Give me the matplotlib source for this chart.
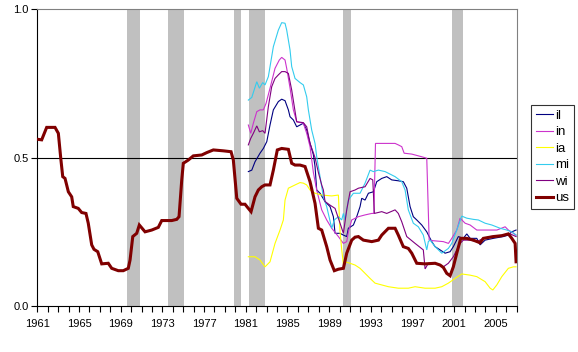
import matplotlib
matplotlib.use("Agg")
import matplotlib.pyplot as plt
from matplotlib.lines import Line2D

plt.rcParams['font.family'] = ['Liberation Sans', 'DejaVu Sans']
plt.rcParams['font.size'] = 8

# Recession periods (start, end) in years
recessions = [(1969.61, 1970.86), (1973.54, 1975.05), (1979.88, 1980.52),
              (1981.32, 1982.85), (1990.34, 1991.10), (2000.80, 2001.86)]

us_years = [1961.00, 1961.42, 1961.90, 1962.70, 1963.02, 1963.25, 1963.44, 1963.66, 1963.98, 1964.30,
            1964.45, 1964.93, 1965.26, 1965.67, 1965.89, 1966.22, 1966.44, 1966.80, 1967.18, 1967.81,
            1968.14, 1968.77, 1969.25, 1969.73, 1969.90, 1970.16, 1970.54, 1970.79, 1971.34, 1971.98,
            1972.61, 1972.94, 1973.90, 1974.38, 1974.60, 1974.86, 1975.01, 1975.49, 1975.97, 1976.78,
            1977.26, 1977.89, 1978.85, 1979.59, 1979.81, 1980.14, 1980.55, 1980.93, 1981.25, 1981.51,
            1981.89, 1982.21, 1982.54, 1982.85, 1983.33, 1983.65, 1984.03, 1984.45, 1985.09, 1985.41,
            1985.73, 1986.21, 1986.69, 1987.17, 1987.65, 1987.97, 1988.29, 1988.77, 1989.09, 1989.50,
            1989.89, 1990.37, 1990.69, 1991.17, 1991.49, 1991.81, 1992.29, 1993.09, 1993.73, 1994.05,
            1994.69, 1995.33, 1995.64, 1996.12, 1996.60, 1996.93, 1997.41, 1998.21, 1999.17, 1999.65,
            1999.96, 2000.29, 2000.61, 2000.92, 2001.25, 2001.63, 2002.21, 2002.84, 2003.49, 2003.80,
            2004.76, 2005.57, 2006.20, 2006.53, 2006.85, 2006.94]
us_vals = [0.562, 0.560, 0.602, 0.602, 0.582, 0.498, 0.436, 0.430, 0.385, 0.368,
           0.335, 0.329, 0.315, 0.312, 0.279, 0.206, 0.191, 0.183, 0.142, 0.144,
           0.127, 0.119, 0.119, 0.127, 0.155, 0.234, 0.245, 0.273, 0.250, 0.256,
           0.265, 0.288, 0.288, 0.292, 0.301, 0.425, 0.481, 0.492, 0.506, 0.509,
           0.517, 0.526, 0.523, 0.520, 0.492, 0.363, 0.343, 0.343, 0.329, 0.318,
           0.368, 0.391, 0.402, 0.408, 0.408, 0.458, 0.526, 0.531, 0.528, 0.481,
           0.475, 0.475, 0.470, 0.419, 0.346, 0.262, 0.256, 0.200, 0.155, 0.119,
           0.124, 0.127, 0.178, 0.222, 0.232, 0.234, 0.222, 0.217, 0.222, 0.239,
           0.262, 0.262, 0.239, 0.200, 0.194, 0.178, 0.144, 0.142, 0.144, 0.138,
           0.130, 0.110, 0.102, 0.132, 0.178, 0.228, 0.228, 0.222, 0.213, 0.228,
           0.234, 0.237, 0.243, 0.228, 0.211, 0.149]

il_years = [1981.25, 1981.58, 1981.89, 1982.37, 1982.69, 1983.02, 1983.33, 1983.65, 1984.13, 1984.45,
            1984.77, 1985.09, 1985.25, 1985.57, 1985.89, 1986.53, 1986.85, 1987.17, 1987.49, 1987.65,
            1987.81, 1988.13, 1988.61, 1989.09, 1989.41, 1989.57, 1990.05, 1990.37, 1990.69, 1990.85,
            1991.33, 1991.65, 1991.97, 1992.13, 1992.45, 1992.77, 1993.25, 1993.57, 1994.05, 1994.53,
            1995.01, 1995.64, 1996.12, 1996.45, 1996.77, 1997.08, 1997.41, 1997.89, 1998.37, 1998.85,
            1999.17, 1999.65, 2000.13, 2000.61, 2000.92, 2001.40, 2001.88, 2002.21, 2002.53, 2003.17,
            2003.49, 2003.97, 2004.76, 2005.72, 2006.20, 2006.53, 2006.94]
il_vals = [0.453, 0.458, 0.486, 0.515, 0.531, 0.554, 0.610, 0.661, 0.689, 0.697,
           0.692, 0.661, 0.638, 0.627, 0.604, 0.616, 0.593, 0.548, 0.510, 0.470,
           0.391, 0.380, 0.352, 0.335, 0.301, 0.245, 0.245, 0.239, 0.234, 0.262,
           0.273, 0.301, 0.335, 0.363, 0.357, 0.380, 0.385, 0.419, 0.430, 0.436,
           0.425, 0.422, 0.419, 0.397, 0.335, 0.301, 0.290, 0.273, 0.250, 0.217,
           0.200, 0.189, 0.178, 0.183, 0.200, 0.234, 0.228, 0.243, 0.228, 0.228,
           0.206, 0.222, 0.228, 0.234, 0.239, 0.250, 0.256]

in_years = [1981.25, 1981.48, 1981.73, 1982.06, 1982.37, 1982.69, 1982.95, 1983.33, 1983.81, 1984.22,
            1984.45, 1984.77, 1984.93, 1985.25, 1985.57, 1985.89, 1986.53, 1986.85, 1987.17, 1987.49,
            1987.81, 1988.29, 1988.77, 1989.25, 1989.89, 1990.37, 1990.69, 1990.85, 1991.17, 1991.81,
            1992.45, 1993.09, 1993.30, 1993.45, 1994.05, 1995.33, 1995.64, 1995.97, 1996.20, 1996.93,
            1997.89, 1998.37, 1998.60, 1999.00, 1999.96, 2000.45, 2000.77, 2001.25, 2001.57, 2002.05,
            2002.53, 2003.17, 2004.00, 2005.10, 2005.89, 2006.20, 2006.69, 2006.94]
in_vals = [0.610, 0.582, 0.616, 0.655, 0.661, 0.661, 0.683, 0.734, 0.801, 0.829,
           0.838, 0.829, 0.801, 0.735, 0.661, 0.621, 0.616, 0.582, 0.537, 0.450,
           0.391, 0.324, 0.290, 0.262, 0.234, 0.211, 0.217, 0.250, 0.290, 0.301,
           0.307, 0.312, 0.312, 0.548, 0.548, 0.548, 0.543, 0.537, 0.515, 0.512,
           0.503, 0.498, 0.222, 0.220, 0.217, 0.211, 0.228, 0.256, 0.296, 0.279,
           0.273, 0.256, 0.256, 0.256, 0.267, 0.256, 0.245, 0.239]

ia_years = [1981.25, 1981.89, 1982.37, 1982.85, 1983.33, 1983.81, 1984.29, 1984.61, 1984.77, 1985.09,
            1985.73, 1986.21, 1986.53, 1986.85, 1987.17, 1987.65, 1988.29, 1989.25, 1989.89, 1990.05,
            1990.21, 1990.37, 1990.53, 1991.01, 1991.49, 1991.97, 1992.45, 1992.93, 1993.41, 1994.05,
            1994.69, 1995.64, 1996.60, 1997.25, 1998.21, 1999.17, 1999.81, 2000.44, 2001.09, 2001.73,
            2002.53, 2003.17, 2003.97, 2004.45, 2004.71, 2005.09, 2005.57, 2006.20, 2006.68, 2006.94]
ia_vals = [0.166, 0.166, 0.155, 0.132, 0.149, 0.211, 0.256, 0.290, 0.357, 0.397,
           0.408, 0.416, 0.414, 0.408, 0.391, 0.380, 0.374, 0.371, 0.374, 0.250,
           0.190, 0.140, 0.149, 0.144, 0.138, 0.127, 0.110, 0.093, 0.077, 0.071,
           0.065, 0.060, 0.060, 0.065, 0.060, 0.060, 0.065, 0.077, 0.093, 0.108,
           0.104, 0.099, 0.082, 0.060, 0.054, 0.071, 0.099, 0.127, 0.132, 0.132]

mi_years = [1981.25, 1981.58, 1982.06, 1982.31, 1982.63, 1982.85, 1983.17, 1983.65, 1984.13, 1984.45,
            1984.77, 1984.93, 1985.25, 1985.41, 1985.73, 1986.21, 1986.53, 1986.85, 1987.01, 1987.17,
            1987.33, 1987.65, 1987.81, 1988.13, 1988.45, 1988.77, 1989.25, 1989.50, 1989.89, 1990.21,
            1990.37, 1990.53, 1990.85, 1991.33, 1991.97, 1992.45, 1992.93, 1993.25, 1993.73, 1994.37,
            1995.33, 1995.97, 1996.29, 1996.60, 1997.08, 1997.56, 1998.04, 1998.37, 1998.52, 1998.69,
            1999.17, 1999.81, 2000.44, 2000.77, 2001.25, 2001.73, 2002.21, 2002.84, 2003.32, 2003.97,
            2004.61, 2005.41, 2006.05, 2006.53, 2006.94]
mi_vals = [0.694, 0.703, 0.756, 0.734, 0.753, 0.745, 0.773, 0.874, 0.930, 0.955,
           0.953, 0.930, 0.863, 0.807, 0.767, 0.753, 0.745, 0.705, 0.661, 0.627,
           0.593, 0.548, 0.503, 0.436, 0.368, 0.335, 0.262, 0.290, 0.301, 0.290,
           0.312, 0.290, 0.357, 0.380, 0.380, 0.414, 0.458, 0.453, 0.458, 0.453,
           0.436, 0.419, 0.391, 0.324, 0.279, 0.267, 0.239, 0.189, 0.217, 0.222,
           0.200, 0.178, 0.194, 0.211, 0.256, 0.303, 0.296, 0.292, 0.290, 0.279,
           0.273, 0.262, 0.256, 0.250, 0.239]

wi_years = [1981.25, 1981.48, 1981.73, 1982.06, 1982.31, 1982.63, 1982.85, 1983.17, 1983.49, 1983.81,
            1984.13, 1984.45, 1984.77, 1985.09, 1985.41, 1985.89, 1986.53, 1986.85, 1987.17, 1987.65,
            1987.97, 1988.29, 1988.45, 1988.61, 1989.09, 1989.57, 1990.05, 1990.37, 1990.69, 1991.01,
            1991.49, 1991.81, 1992.45, 1992.93, 1993.19, 1993.34, 1994.05, 1994.53, 1995.33, 1995.64,
            1995.97, 1996.45, 1997.25, 1998.04, 1998.21, 1998.52, 1999.17, 1999.50, 1999.96, 2000.44,
            2000.92, 2001.25, 2001.57, 2001.88, 2002.53, 2003.17, 2003.80, 2004.45, 2005.09, 2005.72,
            2006.37, 2006.94]
wi_vals = [0.543, 0.565, 0.582, 0.607, 0.587, 0.591, 0.582, 0.672, 0.739, 0.767,
           0.779, 0.790, 0.790, 0.784, 0.728, 0.621, 0.618, 0.604, 0.548, 0.500,
           0.450, 0.408, 0.391, 0.352, 0.340, 0.329, 0.279, 0.245, 0.324, 0.385,
           0.391, 0.397, 0.402, 0.430, 0.425, 0.312, 0.318, 0.312, 0.324, 0.312,
           0.284, 0.234, 0.211, 0.189, 0.125, 0.144, 0.144, 0.142, 0.132, 0.144,
           0.166, 0.189, 0.211, 0.222, 0.222, 0.217, 0.228, 0.234, 0.236, 0.239,
           0.243, 0.234]

series = [
    ("il", il_years, il_vals, "#000080", 0.8),
    ("in", in_years, in_vals, "#CC33CC", 0.8),
    ("ia", ia_years, ia_vals, "#FFFF00", 0.8),
    ("mi", mi_years, mi_vals, "#33CCEE", 0.8),
    ("wi", wi_years, wi_vals, "#800080", 0.8),
    ("us", us_years, us_vals, "#800000", 2.2),
]

x_major = list(range(1961, 2007, 4))
x_minor = list(range(1961, 2008))
y_ticks = [0.0, 0.5, 1.0]
y_labels = ["0.0", "0.5", "1.0"]

fig = plt.figure(figsize=(5.78, 3.52), dpi=100)
ax = fig.add_axes([37.3 / 578, 1 - 306 / 352, (516.7 - 37.3) / 578, (306 - 9.3) / 352])

for (a, b) in recessions:
    ax.axvspan(a, b, color="#C0C0C0", lw=0, zorder=1)

ax.axhline(0.5, color="black", lw=0.8, zorder=2)

handles = []
for name, xs, ys, col, lw in series:
    ax.plot(xs, ys, color=col, lw=lw, zorder=3, solid_joinstyle="miter")
    handles.append(Line2D([], [], color=col, lw=lw))

ax.set_xlim(1961, 2007)
ax.set_ylim(0, 1.0)
ax.set_xticks(x_major)
ax.set_xticks(x_minor, minor=True)
ax.set_xticklabels([str(y) for y in x_major])
ax.set_yticks(y_ticks)
ax.set_yticklabels(y_labels)
ax.tick_params(axis="both", which="both", direction="out", length=4, width=0.8, colors="black")
ax.tick_params(axis="x", which="major", pad=5.5)
ax.tick_params(axis="y", pad=2)

for s in ["left", "bottom"]:
    ax.spines[s].set_color("black")
    ax.spines[s].set_linewidth(0.8)
for s in ["top", "right"]:
    ax.spines[s].set_color("#808080")
    ax.spines[s].set_linewidth(0.8)

leg = fig.legend(handles, [s[0] for s in series], loc="upper left",
                 bbox_to_anchor=(531 / 578, 1 - 105 / 352), frameon=True, fancybox=False,
                 edgecolor="black", handlelength=1.3, handletextpad=0.2, borderpad=0.35,
                 labelspacing=0.32, borderaxespad=0, fontsize=9.5)
leg.get_frame().set_linewidth(0.8)

fig.savefig("out.png", dpi=100, facecolor="white")
